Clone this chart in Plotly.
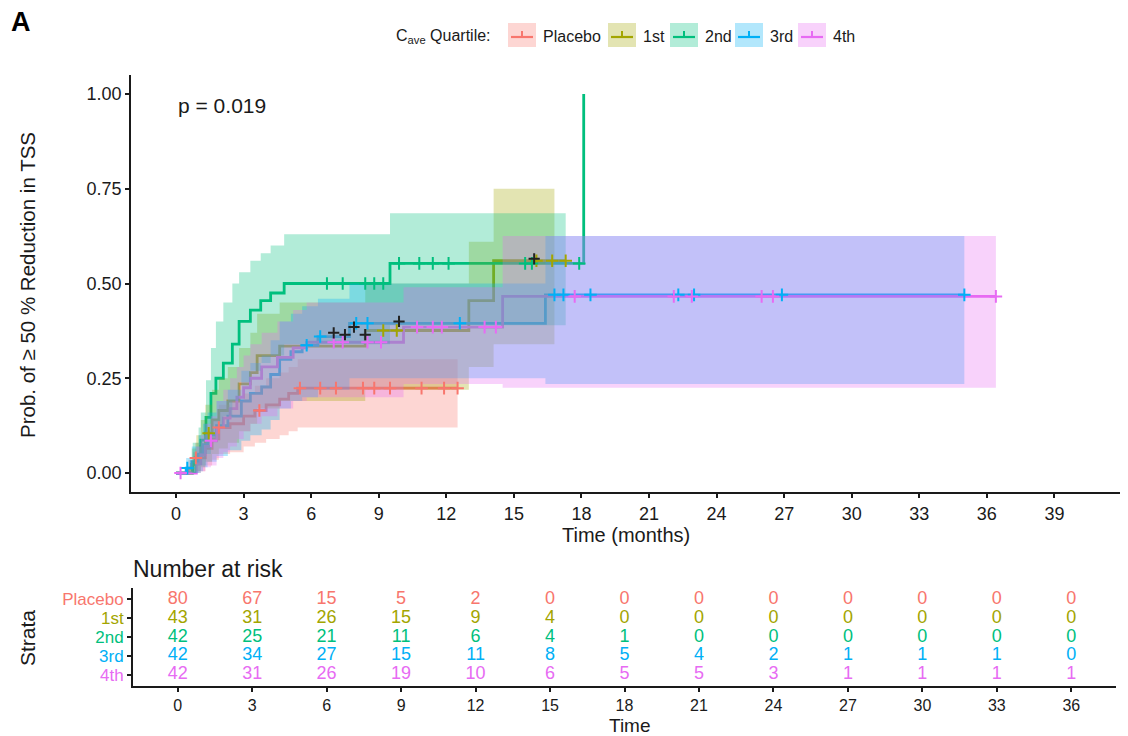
import plotly.graph_objects as go

W, H = 1128, 736

# ---------------- data ----------------
groups = ["Placebo", "1st", "2nd", "3rd", "4th"]
colors = ["#F8766D", "#A3A500", "#00BF7D", "#00B0F6", "#E76BF3"]
fill_rgba = ["rgba(248,118,109,0.3)", "rgba(163,165,0,0.3)", "rgba(0,191,125,0.3)",
             "rgba(0,176,246,0.3)", "rgba(231,107,243,0.3)"]

placebo_t = [0, 0.55, 0.75, 0.85, 1.3, 1.6, 1.9, 2.4, 3.0, 3.5, 4.0, 4.6, 5.0, 5.4, 12.5]
placebo_est = [0, 0.013, 0.025, 0.04, 0.065, 0.09, 0.12, 0.13, 0.15, 0.165, 0.18, 0.195, 0.21, 0.224, 0.224]
placebo_lo = [0, 0, 0, 0.005, 0.02, 0.035, 0.05, 0.055, 0.07, 0.08, 0.09, 0.10, 0.11, 0.12, 0.12]
placebo_hi = [0, 0.035, 0.055, 0.08, 0.11, 0.14, 0.18, 0.19, 0.21, 0.23, 0.25, 0.265, 0.28, 0.30, 0.30]
placebo_cens = [0.88, 1.9, 3.7, 5.5, 6.4, 7.1, 8.3, 8.8, 9.5, 10.9, 11.9, 12.5]

q1_t = [0, 0.7, 0.9, 1.1, 1.3, 1.6, 1.9, 2.3, 2.8, 3.3, 3.6, 4.6, 8.4, 13.0, 14.1, 16.8, 17.3]
q1_est = [0, 0.023, 0.047, 0.07, 0.105, 0.14, 0.165, 0.19, 0.235, 0.265, 0.31, 0.335, 0.376, 0.455, 0.56, 0.56, 0.56]
q1_lo = [0, 0, 0.005, 0.015, 0.03, 0.05, 0.065, 0.08, 0.11, 0.13, 0.17, 0.19, 0.22, 0.28, 0.34, 0.34, None]
q1_hi = [0, 0.065, 0.10, 0.14, 0.18, 0.22, 0.25, 0.28, 0.33, 0.37, 0.42, 0.45, 0.50, 0.61, 0.75, 0.75, None]
q1_cens = [1.45, 9.2, 9.8, 16.0, 16.7, 17.3]

q2_t = [0, 0.74, 1.0, 1.1, 1.33, 1.55, 1.77, 2.1, 2.5, 2.8, 3.3, 3.76, 4.2, 4.8, 9.5, 17.3, 18.1]
q2_est = [0, 0.024, 0.048, 0.087, 0.147, 0.21, 0.25, 0.29, 0.34, 0.40, 0.43, 0.455, 0.475, 0.50, 0.553, 0.553, 1.0]
q2_lo = [0, 0, 0, 0.02, 0.05, 0.09, 0.12, 0.15, 0.19, 0.24, 0.27, 0.29, 0.31, 0.34, 0.39, 0.39, None]
q2_hi = [0, 0.08, 0.12, 0.16, 0.245, 0.33, 0.40, 0.45, 0.50, 0.53, 0.56, 0.58, 0.60, 0.63, 0.685, 0.685, None]
q2_cens = [6.7, 7.4, 8.4, 8.8, 9.2, 9.9, 10.8, 11.4, 12.1, 15.5, 15.8, 17.9]

q3_t = [0, 0.45, 0.7, 1.0, 1.2, 1.4, 1.8, 2.3, 2.9, 3.3, 3.8, 4.2, 4.6, 5.1, 5.6, 6.3, 7.7, 16.4, 35.0]
q3_est = [0, 0.013, 0.03, 0.05, 0.075, 0.10, 0.125, 0.15, 0.19, 0.21, 0.227, 0.26, 0.30, 0.32, 0.337, 0.36, 0.395, 0.47, 0.47]
q3_lo = [0, 0, 0, 0.005, 0.015, 0.03, 0.045, 0.06, 0.085, 0.10, 0.115, 0.14, 0.17, 0.19, 0.20, 0.22, 0.25, 0.235, 0.235]
q3_hi = [0, 0.04, 0.07, 0.10, 0.13, 0.16, 0.19, 0.22, 0.27, 0.29, 0.31, 0.35, 0.40, 0.42, 0.44, 0.46, 0.50, 0.625, 0.625]
q3_cens = [0.5, 5.8, 6.4, 8.0, 8.5, 12.6, 16.8, 17.2, 18.4, 22.3, 23.0, 26.9, 35.0]

q4_t = [0, 0.9, 1.1, 1.3, 1.55, 1.8, 2.1, 2.4, 2.7, 3.0, 3.3, 3.8, 4.5, 5.2, 5.8, 10.1, 14.5, 36.4]
q4_est = [0, 0.024, 0.048, 0.07, 0.085, 0.12, 0.145, 0.17, 0.20, 0.225, 0.25, 0.28, 0.305, 0.33, 0.345, 0.385, 0.466, 0.466]
q4_lo = [0, 0, 0.005, 0.015, 0.02, 0.04, 0.055, 0.07, 0.09, 0.11, 0.13, 0.15, 0.17, 0.19, 0.20, 0.235, 0.225, 0.225]
q4_hi = [0, 0.07, 0.10, 0.13, 0.15, 0.19, 0.22, 0.25, 0.28, 0.31, 0.34, 0.37, 0.40, 0.43, 0.45, 0.49, 0.625, 0.625]
q4_cens = [0.2, 1.55, 7.0, 7.4, 8.5, 9.1, 10.7, 11.4, 11.8, 13.7, 14.2, 17.7, 22.1, 22.9, 26.0, 26.5, 36.4]

# overlapping (dark) censor marks visible in the original
dark_marks_t = [7.0, 7.5, 7.9, 8.4, 9.9, 15.9]
dark_marks_y = [0.37, 0.365, 0.385, 0.365, 0.40, 0.565]

risk_times = [0, 3, 6, 9, 12, 15, 18, 21, 24, 27, 30, 33, 36]
placebo_risk = [80, 67, 15, 5, 2, 0, 0, 0, 0, 0, 0, 0, 0]
q1_risk = [43, 31, 26, 15, 9, 4, 0, 0, 0, 0, 0, 0, 0]
q2_risk = [42, 25, 21, 11, 6, 4, 1, 0, 0, 0, 0, 0, 0]
q3_risk = [42, 34, 27, 15, 11, 8, 5, 4, 2, 1, 1, 1, 0]
q4_risk = [42, 31, 26, 19, 10, 6, 5, 5, 3, 1, 1, 1, 1]

main_xticks = [0, 3, 6, 9, 12, 15, 18, 21, 24, 27, 30, 33, 36, 39]
main_yticks = [0, 0.25, 0.5, 0.75, 1.0]
main_yticklabels = ["0.00", "0.25", "0.50", "0.75", "1.00"]
p_value_text = "p = 0.019"

series = [
    (placebo_t, placebo_est, placebo_lo, placebo_hi, placebo_cens, placebo_risk),
    (q1_t, q1_est, q1_lo, q1_hi, q1_cens, q1_risk),
    (q2_t, q2_est, q2_lo, q2_hi, q2_cens, q2_risk),
    (q3_t, q3_est, q3_lo, q3_hi, q3_cens, q3_risk),
    (q4_t, q4_est, q4_lo, q4_hi, q4_cens, q4_risk),
]

FONT = "Arial, Liberation Sans, Helvetica, sans-serif"
TXT = "#1a1a1a"
PAGE_OFF = 8  # browser default body margin


def step_value(t, est, x):
    v = est[0]
    for ti, ei in zip(t, est):
        if ti <= x:
            v = ei
        else:
            break
    return v


def pxx(px):
    return (px - PAGE_OFF) / W


def pxy(py):
    return 1 - (py - PAGE_OFF) / H


fig = go.Figure()

# step lines (drawn first, bands go over them like in ggsurvplot)
for (t, est, lo, hi, cens, risk), col, name in zip(series, colors, groups):
    fig.add_trace(go.Scatter(x=t, y=est, mode="lines", line=dict(color=col, width=2.8, shape="hv"),
                             name=name, hoverinfo="skip", xaxis="x", yaxis="y"))

# confidence bands
for (t, est, lo, hi, cens, risk), fc in zip(series, fill_rgba):
    bt = [ti for ti, l in zip(t, lo) if l is not None]
    bl = [l for l in lo if l is not None]
    bh = [h for h in hi if h is not None]
    fig.add_trace(go.Scatter(x=bt, y=bl, mode="lines", line=dict(width=0, shape="hv"),
                             hoverinfo="skip", xaxis="x", yaxis="y"))
    fig.add_trace(go.Scatter(x=bt, y=bh, mode="lines", line=dict(width=0, shape="hv"),
                             fill="tonexty", fillcolor=fc, hoverinfo="skip", xaxis="x", yaxis="y"))

# censor marks
for (t, est, lo, hi, cens, risk), col in zip(series, colors):
    fig.add_trace(go.Scatter(x=cens, y=[step_value(t, est, c) for c in cens], mode="markers",
                             marker=dict(symbol="cross-thin", size=9, line=dict(color=col, width=2)),
                             hoverinfo="skip", xaxis="x", yaxis="y"))
fig.add_trace(go.Scatter(x=dark_marks_t, y=dark_marks_y, mode="markers",
                         marker=dict(symbol="cross-thin", size=8, line=dict(color="#222222", width=2)),
                         hoverinfo="skip", xaxis="x", yaxis="y"))

# risk table numbers
rows = [5, 4, 3, 2, 1]
for (t, est, lo, hi, cens, risk), col, r in zip(series, colors, rows):
    fig.add_trace(go.Scatter(x=risk_times, y=[r] * len(risk_times), mode="text",
                             text=[str(v) for v in risk], textposition="middle center",
                             textfont=dict(color=col, size=18, family=FONT),
                             hoverinfo="skip", xaxis="x2", yaxis="y2"))

axis_common = dict(showline=True, linecolor="#1a1a1a", linewidth=1.8, ticks="outside", ticklen=4,
                   tickwidth=1.5, tickcolor="#1a1a1a", showgrid=False, zeroline=False, mirror=False)

fig.update_layout(
    width=W, height=H, autosize=False, showlegend=False,
    margin=dict(l=0, r=0, t=0, b=0),
    paper_bgcolor="white", plot_bgcolor="white",
    xaxis=dict(domain=[pxx(131), pxx(1122)], anchor="y", range=[-2, 42],
               tickmode="array", tickvals=main_xticks, ticktext=[str(v) for v in main_xticks],
               tickfont=dict(family=FONT, size=18, color=TXT), **axis_common),
    yaxis=dict(domain=[pxy(492), pxy(75)], anchor="x", range=[-0.05, 1.05],
               tickmode="array", tickvals=main_yticks, ticktext=main_yticklabels,
               tickfont=dict(family=FONT, size=18, color=TXT), **axis_common),
    xaxis2=dict(domain=[pxx(133), pxx(1116)], anchor="y2", range=[-1.8, 37.8],
                tickmode="array", tickvals=risk_times, ticktext=[str(v) for v in risk_times],
                tickfont=dict(family=FONT, size=16, color=TXT), **axis_common),
    yaxis2=dict(domain=[pxy(686), pxy(588)], anchor="x2", range=[0.4, 5.6],
                tickmode="array", tickvals=rows,
                ticktext=[f'<span style="color:{c}">{g}</span>' for g, c in zip(groups, colors)],
                tickfont=dict(family=FONT, size=17, color=TXT), **axis_common),
)

ann = []
ann.append(dict(text="<b>A</b>", x=pxx(9), y=pxy(22), xref="paper", yref="paper",
                xanchor="left", yanchor="middle", showarrow=False,
                font=dict(family=FONT, size=27, color="#000000")))
ann.append(dict(text=p_value_text, x=pxx(176), y=pxy(106), xref="paper", yref="paper",
                xanchor="left", yanchor="middle",
                showarrow=False, font=dict(family=FONT, size=21, color=TXT)))
ann.append(dict(text="Prob. of \u2265 50 % Reduction in TSS", x=pxx(28), y=pxy(285), xref="paper",
                yref="paper", textangle=-90, showarrow=False, xanchor="center", yanchor="middle",
                font=dict(family=FONT, size=20.5, color=TXT)))
ann.append(dict(text="Time (months)", x=pxx(626), y=pxy(535), xref="paper", yref="paper",
                showarrow=False, xanchor="center", yanchor="middle",
                font=dict(family=FONT, size=20, color=TXT)))
ann.append(dict(text="Number at risk", x=pxx(131), y=pxy(569), xref="paper", yref="paper",
                showarrow=False, xanchor="left", yanchor="middle",
                font=dict(family=FONT, size=23, color=TXT)))
ann.append(dict(text="Strata", x=pxx(27), y=pxy(638), xref="paper", yref="paper", textangle=-90,
                showarrow=False, xanchor="center", yanchor="middle",
                font=dict(family=FONT, size=21, color=TXT)))
ann.append(dict(text="Time", x=pxx(630), y=pxy(725), xref="paper", yref="paper",
                showarrow=False, xanchor="center", yanchor="middle",
                font=dict(family=FONT, size=19, color=TXT)))

# legend (drawn manually to reproduce the filled key boxes)
ann.append(dict(text="C<sub>ave</sub> Quartile:", x=pxx(394), y=pxy(36), xref="paper", yref="paper",
                showarrow=False, xanchor="left", yanchor="middle",
                font=dict(family=FONT, size=16, color=TXT)))
key_left = [508, 608, 670, 735, 798]
shapes = []
for g, col, fc, kx in zip(groups, colors, fill_rgba, key_left):
    shapes.append(dict(type="rect", xref="paper", yref="paper", x0=pxx(kx), x1=pxx(kx + 28),
                       y0=pxy(47), y1=pxy(23), fillcolor=fc, line=dict(width=0), layer="above"))
    shapes.append(dict(type="line", xref="paper", yref="paper", x0=pxx(kx + 3), x1=pxx(kx + 25),
                       y0=pxy(37), y1=pxy(37), line=dict(color=col, width=2.2), layer="above"))
    shapes.append(dict(type="line", xref="paper", yref="paper", x0=pxx(kx + 14), x1=pxx(kx + 14),
                       y0=pxy(31), y1=pxy(38), line=dict(color=col, width=2), layer="above"))
    ann.append(dict(text=g, x=pxx(kx + 33), y=pxy(36), xref="paper", yref="paper",
                    showarrow=False, xanchor="left", yanchor="middle",
                    font=dict(family=FONT, size=16, color=TXT)))

fig.update_layout(annotations=ann, shapes=shapes)

fig.write_html("out.html")
